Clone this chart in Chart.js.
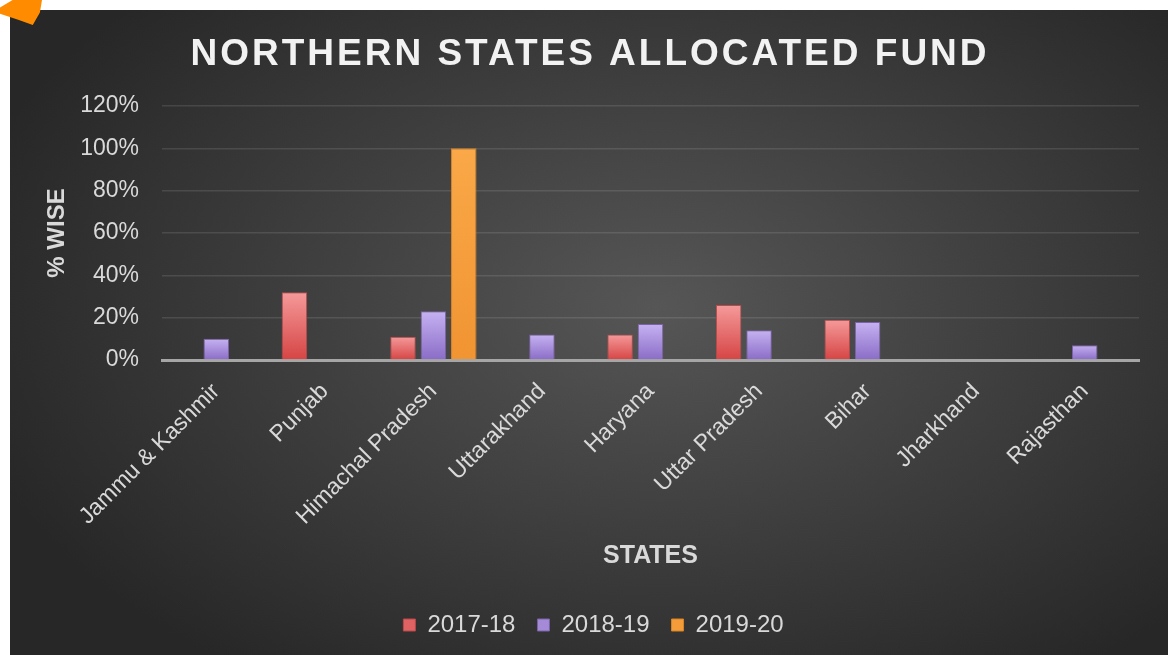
<!DOCTYPE html>
<html lang="en">
  <head>
    <meta charset="UTF-8" />
    <script src="https://cdn.jsdelivr.net/npm/chart.js@4.4.1/dist/chart.umd.min.js"></script>
    <title>Northern States Allocated Fund</title>
    <style>
      body { margin: 0; background: #fff; width: 1170px; height: 655px; overflow: hidden; position: relative; }
      #wrap { position: absolute; left: 10px; top: 10px; width: 1158px; height: 645px; }
      #tip { position: absolute; left: 0; top: 0; width: 42px; height: 25px; background: #ff8c00;
             clip-path: polygon(0 30%, 30% 0, 100% 0, 95% 50%, 78% 100%, 45% 80%, 0 55%); }
    </style>
  </head>
  <body>
    <div id="wrap"><canvas id="chart" width="1158" height="645"></canvas></div>
    <div id="tip"></div>
    <script>
      // values in percent
      const states = ["Jammu & Kashmir", "Punjab", "Himachal Pradesh", "Uttarakhand", "Haryana",
        "Uttar Pradesh", "Bihar", "Jharkhand", "Rajasthan"];
      const fy1718 = [null, 32, 11, null, 12, 26, 19, null, null];
      const fy1819 = [10, null, 23, 12, 17, 14, 18, null, 7];
      const fy1920 = [null, null, 100, null, null, null, null, null, null];
      const yTicks = [0, 20, 40, 60, 80, 100, 120];

      Chart.defaults.font.family = "'Liberation Sans', Arial, sans-serif";

      // light top -> darker bottom for every bar
      function barFill(light, dark) {
        return function (ctx) {
          const chart = ctx.chart;
          const v = ctx.raw;
          if (!chart.chartArea || v == null || !chart.scales.y) return dark;
          const top = chart.scales.y.getPixelForValue(v);
          const bottom = chart.scales.y.getPixelForValue(0);
          const g = chart.ctx.createLinearGradient(0, top, 0, bottom);
          g.addColorStop(0, light);
          g.addColorStop(1, dark);
          return g;
        };
      }

      const bgPlugin = {
        id: "bg",
        beforeDraw(chart) {
          const c = chart.ctx;
          const w = chart.width, h = chart.height;
          c.save();
          c.translate(w * 0.56, h * 0.46);
          c.scale(1, 0.62);
          const g = c.createRadialGradient(0, 0, 0, 0, 0, w * 0.62);
          g.addColorStop(0, "#565656");
          g.addColorStop(1, "#272727");
          c.fillStyle = g;
          c.fillRect(-w, -h * 2, w * 2, h * 4);
          c.restore();
        },
        afterDraw(chart) {
          // title with letter spacing
          const c = chart.ctx;
          c.save();
          c.font = "bold 37px 'Liberation Sans', Arial, sans-serif";
          c.letterSpacing = "3px";
          c.fillStyle = "#f2f2f2";
          c.textAlign = "center";
          c.textBaseline = "alphabetic";
          c.fillText("NORTHERN STATES ALLOCATED FUND", 580, 55);
          c.restore();
        },
      };

      const ctx = document.getElementById("chart").getContext("2d");
      const myChart = new Chart(ctx, {
        type: "bar",
        data: {
          labels: states,
          datasets: [
            {
              label: "2017-18",
              data: fy1718,
              backgroundColor: barFill("#f59a9a", "#d64444"),
              borderColor: "#b84a4a",
              borderWidth: 1,
            },
            {
              label: "2018-19",
              data: fy1819,
              backgroundColor: barFill("#c6b2f2", "#8a6cc6"),
              borderColor: "#7a62a8",
              borderWidth: 1,
            },
            {
              label: "2019-20",
              data: fy1920,
              backgroundColor: barFill("#faa848", "#f19432"),
              borderColor: "#d98424",
              borderWidth: 1,
            },
          ],
        },
        plugins: [bgPlugin],
        options: {
          responsive: false,
          animation: false,
          categoryPercentage: 0.84,
          barPercentage: 0.84,
          layout: { padding: { top: 96, left: 38, right: 29, bottom: 8 } },
          plugins: {
            title: { display: false },
            tooltip: { enabled: false },
            legend: {
              position: "bottom",
              labels: {
                color: "#d9d9d9",
                font: { size: 24 },
                boxWidth: 12,
                boxHeight: 12,
                padding: 22,
                generateLabels() {
                  return [
                    { text: "2017-18", fillStyle: "#e06262", strokeStyle: "#b84a4a", lineWidth: 1, datasetIndex: 0, fontColor: "#d9d9d9" },
                    { text: "2018-19", fillStyle: "#a58ad8", strokeStyle: "#7a62a8", lineWidth: 1, datasetIndex: 1, fontColor: "#d9d9d9" },
                    { text: "2019-20", fillStyle: "#f59c3a", strokeStyle: "#d98424", lineWidth: 1, datasetIndex: 2, fontColor: "#d9d9d9" },
                  ];
                },
              },
            },
          },
          scales: {
            x: {
              grid: { display: false },
              border: { color: "#a6a6a6", width: 3 },
              ticks: {
                color: "#d9d9d9",
                font: { size: 23 },
                minRotation: 45,
                maxRotation: 45,
                padding: 10,
                autoSkip: false,
              },
              title: {
                display: true,
                text: "STATES",
                color: "#d9d9d9",
                font: { size: 25, weight: "bold" },
                padding: { top: 0, bottom: 20 },
              },
              afterFit(scale) {
                scale.height = 231;
              },
            },
            y: {
              min: 0,
              max: 120,
              afterBuildTicks(scale) {
                scale.ticks = yTicks.map((v) => ({ value: v }));
              },
              grid: { color: "rgba(255,255,255,0.11)", lineWidth: 1.5, drawTicks: false },
              border: { display: false },
              ticks: {
                color: "#d9d9d9",
                font: { size: 23 },
                padding: 23,
                callback: (v) => v + "%",
              },
              title: {
                display: true,
                text: "% WISE",
                color: "#d9d9d9",
                font: { size: 24, weight: "bold" },
                padding: { top: -5, bottom: 0 },
              },
              afterFit(scale) {
                scale.width = 114;
              },
            },
          },
        },
      });
    </script>
  </body>
</html>
